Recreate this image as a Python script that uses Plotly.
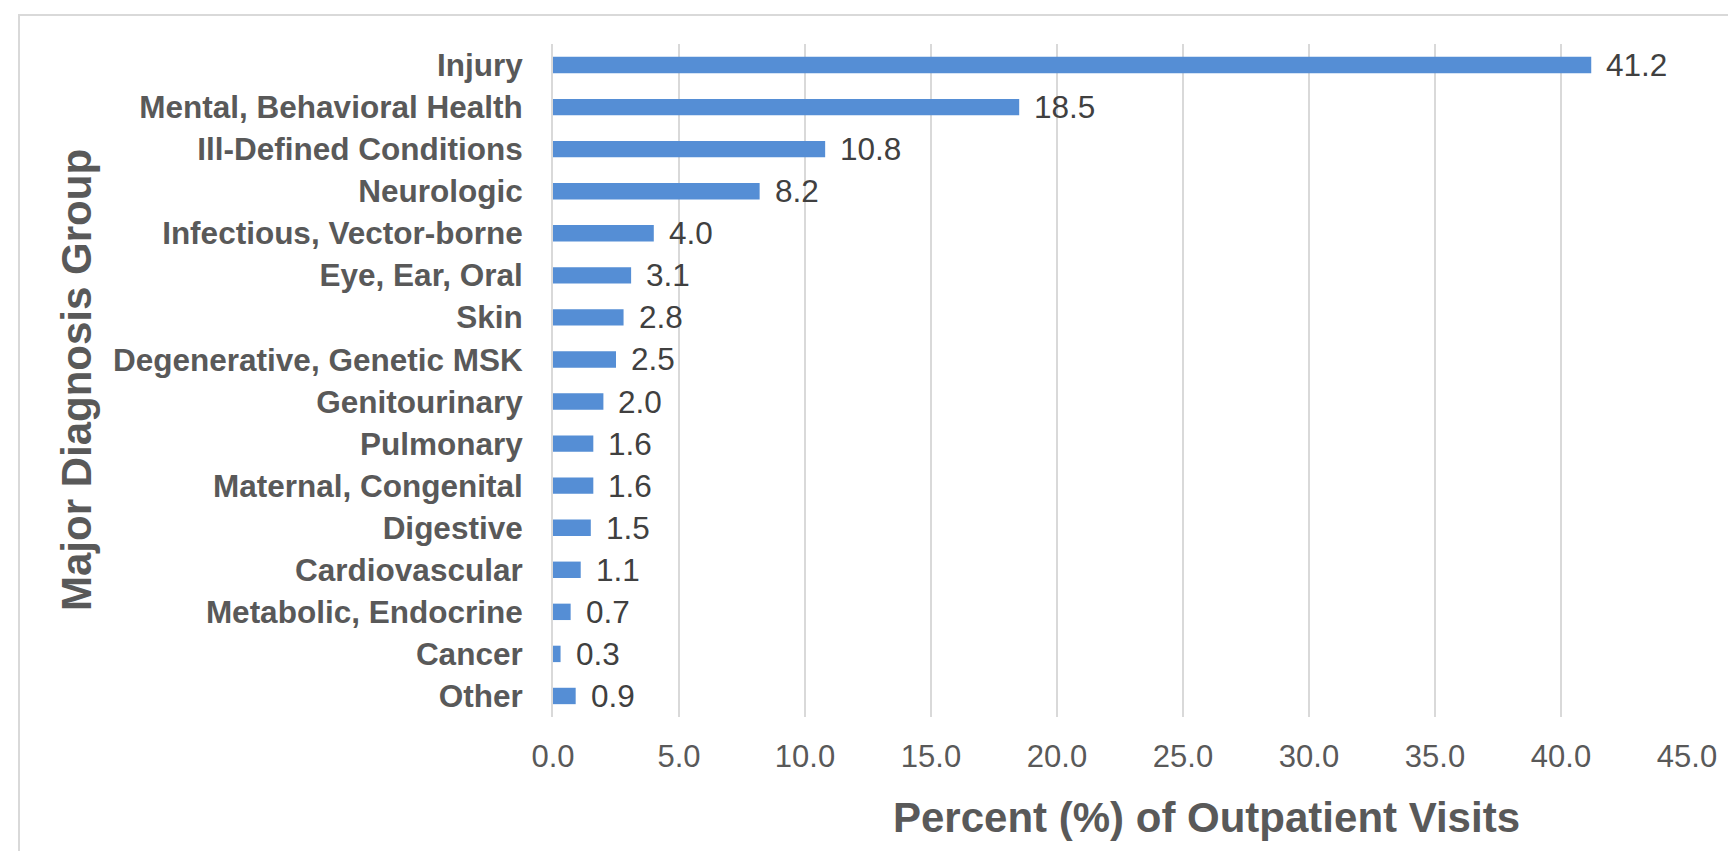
import plotly.graph_objects as go

categories = ["Injury", "Mental, Behavioral Health", "Ill-Defined Conditions", "Neurologic",
              "Infectious, Vector-borne", "Eye, Ear, Oral", "Skin", "Degenerative, Genetic MSK",
              "Genitourinary", "Pulmonary", "Maternal, Congenital", "Digestive",
              "Cardiovascular", "Metabolic, Endocrine", "Cancer", "Other"]
values = [41.2, 18.5, 10.8, 8.2, 4.0, 3.1, 2.8, 2.5, 2.0, 1.6, 1.6, 1.5, 1.1, 0.7, 0.3, 0.9]
x_ticks = [0, 5, 10, 15, 20, 25, 30, 35, 40, 45]
x_title = "Percent (%) of Outpatient Visits"
y_title = "Major Diagnosis Group"

FONT = "Liberation Sans, Arial, sans-serif"
W, H = 1736, 851
L, R, T, B = 545, 1679, 36, 709

def px_x(p):
    return (p - L) / (R - L)

def px_y(p):
    return (B - p) / (B - T)

fig = go.Figure()
fig.add_trace(go.Bar(
    x=values, y=categories, orientation="h",
    marker=dict(color="#558ED5", line=dict(width=0)),
    hoverinfo="skip",
))

annotations = []
for c, v in zip(categories, values):
    annotations.append(dict(
        x=v, y=c, xref="x", yref="y", text=f"{v:.1f}", showarrow=False,
        xanchor="left", yanchor="middle", xshift=13,
        font=dict(family=FONT, size=31.5, color="#404040"),
    ))
annotations.append(dict(
    x=px_x(1198), y=px_y(809), xref="paper", yref="paper", text=f"<b>{x_title}</b>",
    showarrow=False, xanchor="center", yanchor="middle",
    font=dict(family=FONT, size=42, color="#595959"),
))
annotations.append(dict(
    x=px_x(68), y=px_y(372), xref="paper", yref="paper", text=f"<b>{y_title}</b>",
    showarrow=False, xanchor="center", yanchor="middle", textangle=-90,
    font=dict(family=FONT, size=42, color="#595959"),
))

fig.update_layout(
    width=W, height=H,
    margin=dict(l=L, r=W - R, t=T, b=H - B, pad=0),
    paper_bgcolor="white", plot_bgcolor="white",
    showlegend=False,
    bargap=0.61,
    annotations=annotations,
    shapes=[dict(type="rect", xref="paper", yref="paper",
                 x0=px_x(11), x1=px_x(2000), y0=px_y(1200), y1=px_y(7),
                 line=dict(color="#d9d9d9", width=2), fillcolor="rgba(0,0,0,0)", layer="below")],
    xaxis=dict(
        range=[0, 45], tickvals=x_ticks, ticktext=[f"{t:.1f}" for t in x_ticks],
        showgrid=True, gridcolor="#d9d9d9", gridwidth=1.5, zeroline=False,
        showline=False, ticks="", ticklabelstandoff=18,
        tickfont=dict(family=FONT, size=31, color="#595959"),
    ),
    yaxis=dict(
        autorange="reversed", showgrid=False, zeroline=False,
        showline=True, linecolor="#d9d9d9", linewidth=2, ticks="",
        ticklabelstandoff=22,
        tickfont=dict(family=FONT, size=31.5, color="#595959", weight="bold"),
    ),
)

fig.write_html("out.html")
